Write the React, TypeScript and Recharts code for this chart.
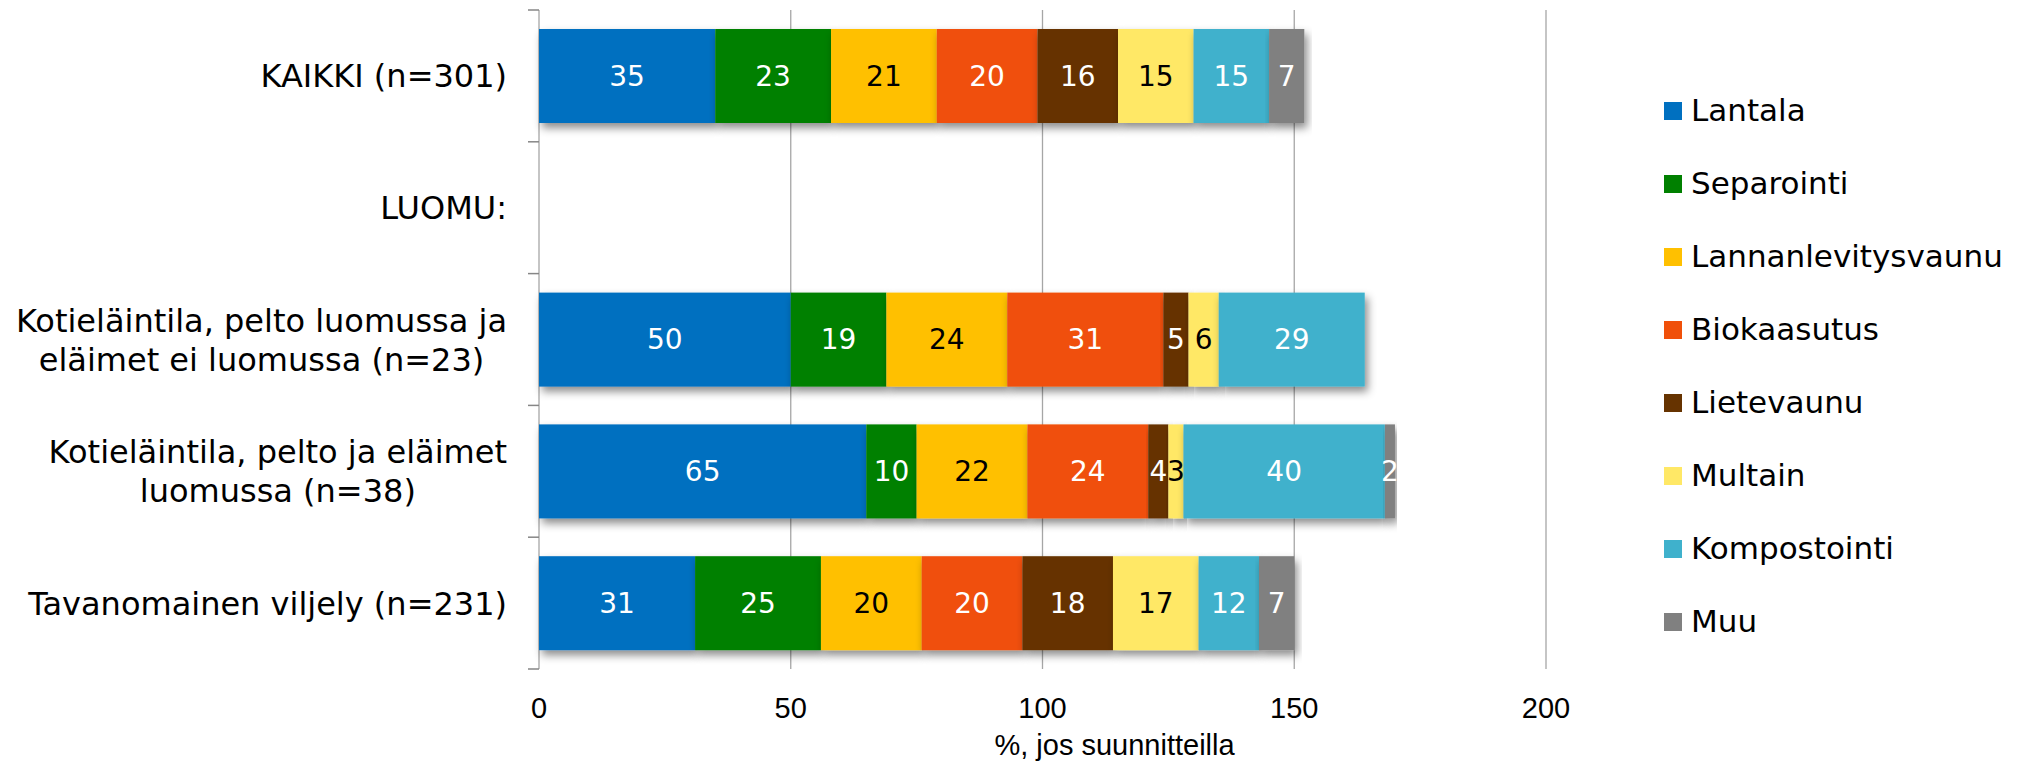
import React from "react";
import { Bar, BarChart, CartesianGrid, LabelList, XAxis, YAxis } from "recharts";

// Categories (rows, top to bottom); "\n" breaks a long label into two lines
const categories = [
  "KAIKKI (n=301)",
  "LUOMU:",
  "Kotieläintila, pelto luomussa ja\neläimet ei luomussa (n=23)",
  "Kotieläintila, pelto ja eläimet\nluomussa (n=38)",
  "Tavanomainen viljely (n=231)",
];

// % of respondents planning each measure
const lantala = [35, null, 50, 65, 31];
const separointi = [23, null, 19, 10, 25];
const lannanlevitysvaunu = [21, null, 24, 22, 20];
const biokaasutus = [20, null, 31, 24, 20];
const lietevaunu = [16, null, 5, 4, 18];
const multain = [15, null, 6, 3, 17];
const kompostointi = [15, null, 29, 40, 12];
const muu = [7, null, null, 2, 7];

const xTicks = [0, 50, 100, 150, 200];
const xTitle = "%, jos suunnitteilla";

const series = [
  { key: "Lantala", values: lantala, color: "#0070C0", text: "#ffffff" },
  { key: "Separointi", values: separointi, color: "#008000", text: "#ffffff" },
  { key: "Lannanlevitysvaunu", values: lannanlevitysvaunu, color: "#FFC000", text: "#000000" },
  { key: "Biokaasutus", values: biokaasutus, color: "#F0500A", text: "#ffffff" },
  { key: "Lietevaunu", values: lietevaunu, color: "#663300", text: "#ffffff" },
  { key: "Multain", values: multain, color: "#FFE866", text: "#000000" },
  { key: "Kompostointi", values: kompostointi, color: "#3FB1CC", text: "#ffffff" },
  { key: "Muu", values: muu, color: "#808080", text: "#ffffff" },
];

const rows = categories.map((name, i) => {
  const row: Record<string, string | number | null> = { name };
  series.forEach((s) => (row[s.key] = s.values[i]));
  return row;
});

const AXIS = "#868686";
const GRID = "#a6a6a6";
const CAT_FONT_SIZE = 32;
const CAT_FONT = `${CAT_FONT_SIZE}px "DejaVu Sans"`;
const CAT_MARGIN = 32;
const TICK_LEN = 11;

const ctx = typeof document !== "undefined" ? document.createElement("canvas").getContext("2d") : null;
function textWidth(s: string) {
  if (!ctx) return s.length * 16;
  ctx.font = CAT_FONT;
  return ctx.measureText(s).width;
}

// right-aligned block, lines centred on each other (as in the original),
// plus the little tick marks at the category boundaries
function CategoryTick(props: any) {
  const { x, y, payload, index } = props;
  const lines = String(payload.value).split("\n");
  const w = Math.max(...lines.map(textWidth));
  const cx = x - w / 2;
  const lh = 39;
  const first = y - ((lines.length - 1) * lh) / 2 + 11.5;
  const half = payload.offset || 65.9;
  const ax = x + CAT_MARGIN;
  return (
    <g>
      <line x1={ax - TICK_LEN} x2={ax} y1={y - half} y2={y - half} stroke={AXIS} strokeWidth={1.5} />
      {index === categories.length - 1 && (
        <line x1={ax - TICK_LEN} x2={ax} y1={y + half} y2={y + half} stroke={AXIS} strokeWidth={1.5} />
      )}
      <text textAnchor="middle" fontFamily='"DejaVu Sans"' fontSize={CAT_FONT_SIZE} fill="#000">
        {lines.map((l, i) => (
          <tspan key={i} x={cx} y={first + i * lh}>
            {l}
          </tspan>
        ))}
      </text>
    </g>
  );
}

function ShadowRect(props: any) {
  const { x, y, width, height, fill } = props;
  if (!width || width <= 0) return null;
  return <rect x={x} y={y} width={width} height={height} fill={fill} filter="url(#barShadow)" />;
}

function makeLabel(color: string) {
  return (p: any) => {
    const { x, y, width, height, value } = p;
    if (value == null || value === 0) return null;
    return (
      <text
        x={Number(x) + Number(width) / 2}
        y={Number(y) + Number(height) / 2}
        textAnchor="middle"
        dominantBaseline="central"
        fontFamily='"DejaVu Sans"'
        fontSize={28}
        fill={color}
      >
        {value}
      </text>
    );
  };
}

function AxisTitle(props: any) {
  const vb = props.viewBox || { x: 539, y: 669, width: 1007 };
  return (
    <text
      x={vb.x + vb.width / 2 + 72}
      y={vb.y + 86}
      textAnchor="middle"
      fontFamily='"Liberation Sans", Arial, sans-serif'
      fontSize={29}
      fill="#000"
    >
      {xTitle}
    </text>
  );
}

export default function App() {
  return (
    <div style={{ position: "absolute", left: 0, top: 0, width: 2025, height: 767, background: "#fff" }}>
      <svg width={0} height={0} style={{ position: "absolute" }}>
        <defs>
          <filter id="barShadow" x="-10%" y="-20%" width="130%" height="160%">
            <feDropShadow dx={3} dy={5} stdDeviation={4} floodColor="#000" floodOpacity={0.45} />
          </filter>
        </defs>
      </svg>
      <BarChart
        width={2025}
        height={767}
        data={rows}
        layout="vertical"
        margin={{ top: 10, right: 479, bottom: 0, left: 0 }}
      >
        <CartesianGrid horizontal={false} stroke={GRID} strokeWidth={1.3} yAxisId="cat" />
        <XAxis
          type="number"
          domain={[0, 200]}
          ticks={xTicks}
          height={98}
          axisLine={false}
          tickLine={false}
          tickSize={0}
          tickMargin={28}
          tick={{ fontFamily: '"Liberation Sans", Arial, sans-serif', fontSize: 29, fill: "#000" }}
          label={<AxisTitle />}
        />
        <YAxis
          yAxisId="cat"
          type="category"
          dataKey="name"
          width={539}
          interval={0}
          axisLine={false}
          tickLine={false}
          tickSize={0}
          tickMargin={CAT_MARGIN}
          tick={<CategoryTick />}
        />
        <YAxis
          yAxisId="edge"
          type="number"
          domain={[0, 5]}
          ticks={[0, 1, 2, 3, 4, 5]}
          allowDataOverflow
          width={0}
          tickSize={TICK_LEN}
          tickFormatter={() => ""}
          axisLine={{ stroke: AXIS, strokeWidth: 1.5 }}
          tickLine={{ stroke: AXIS, strokeWidth: 1.5 }}
        />
        {series.map((s) => (
          <Bar
            key={s.key}
            dataKey={s.key}
            yAxisId="cat"
            stackId="a"
            fill={s.color}
            barSize={94}
            shape={<ShadowRect />}
            isAnimationActive={false}
          >
            <LabelList dataKey={s.key} content={makeLabel(s.text)} />
          </Bar>
        ))}
      </BarChart>
      <div style={{ position: "absolute", left: 1664, top: 74, fontFamily: '"DejaVu Sans"', fontSize: 31, color: "#000" }}>
        {series.map((s) => (
          <div key={s.key} style={{ height: 73, display: "flex", alignItems: "center" }}>
            <span style={{ width: 18, height: 18, background: s.color, marginRight: 9, display: "inline-block" }} />
            <span style={{ lineHeight: "31px" }}>{s.key}</span>
          </div>
        ))}
      </div>
    </div>
  );
}
